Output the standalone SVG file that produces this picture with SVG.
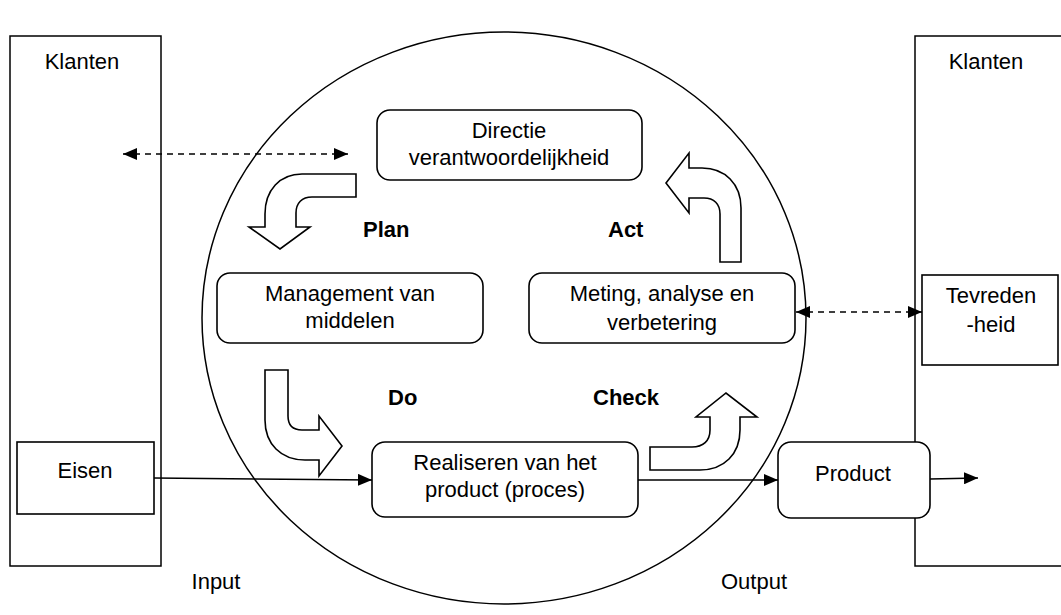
<svg xmlns="http://www.w3.org/2000/svg" width="1061" height="615" viewBox="0 0 1061 615">
  <style>
    .line { fill: none; stroke: #000; stroke-width: 1.5; }
    .box { fill: #fff; stroke: #000; stroke-width: 1.6; }
    .blk { fill: #fff; stroke: #000; stroke-width: 1.6; stroke-linejoin: miter; }
    .txt { font-family: "Liberation Sans", Arial, sans-serif; font-size: 22px; fill: #000; text-anchor: middle; }
    .lbl { font-family: "Liberation Sans", Arial, sans-serif; font-size: 22px; font-weight: bold; fill: #000; }
    .dash { fill: none; stroke: #000; stroke-width: 1.6; stroke-dasharray: 6 5; }
  </style>
  <defs>
    <marker id="head" viewBox="0 0 14 12" refX="14" refY="6" markerWidth="14" markerHeight="12" markerUnits="userSpaceOnUse" orient="auto-start-reverse">
      <path d="M0,0 L14,6 L0,12 Z" fill="#000"/>
    </marker>
    <clipPath id="clipMeting">
      <rect x="529" y="273" width="266" height="63"/>
    </clipPath>
  </defs>

  <rect width="1061" height="615" fill="#fff"/>

  <!-- customer columns -->
  <g id="klanten-links">
    <rect class="line" x="10" y="36" width="151" height="530"/>
    <text class="txt" x="82" y="69">Klanten</text>
  </g>
  <g id="klanten-rechts">
    <rect class="line" x="915" y="36" width="150" height="530"/>
    <text class="txt" x="986" y="69">Klanten</text>
  </g>

  <!-- process circle -->
  <ellipse id="kringloop" class="line" cx="504" cy="318" rx="302" ry="286"/>

  <g id="eisen">
    <rect class="box" x="17" y="442" width="137" height="72"/>
    <text class="txt" x="85" y="478">Eisen</text>
  </g>

  <g id="directie">
    <rect class="box" x="377" y="110" width="265" height="70" rx="13"/>
    <text class="txt" x="509" y="138">Directie</text>
    <text class="txt" x="509" y="165">verantwoordelijkheid</text>
  </g>

  <g id="management">
    <rect class="box" x="217" y="273" width="266" height="70" rx="13"/>
    <text class="txt" x="350" y="301">Management van</text>
    <text class="txt" x="350" y="328">middelen</text>
  </g>

  <g id="meting">
    <rect class="box" x="529" y="273" width="266" height="70" rx="13"/>
    <text class="txt" x="662" y="301">Meting, analyse en</text>
    <text class="txt" x="662" y="330" clip-path="url(#clipMeting)">verbetering</text>
  </g>

  <g id="realiseren">
    <rect class="box" x="372" y="442" width="266" height="75" rx="13"/>
    <text class="txt" x="505" y="470">Realiseren van het</text>
    <text class="txt" x="505" y="497">product (proces)</text>
  </g>

  <g id="product">
    <rect class="box" x="778" y="442" width="152" height="76" rx="13"/>
    <text class="txt" x="853" y="481">Product</text>
  </g>

  <g id="tevredenheid">
    <rect class="box" x="922" y="275" width="136" height="90"/>
    <text class="txt" x="991" y="303">Tevreden</text>
    <text class="txt" x="991" y="332">-heid</text>
  </g>

  <!-- PDCA block arrows -->
  <g id="pijl-plan">
    <path class="blk" d="M356,174 L302,174 C280,174 265,190 265,214 L265,227 L249,227 L280,249 L310,227 L296,227 L296,213 C296,203 302,197 312,197 L356,197 Z"/>
    <text class="lbl" x="363" y="237">Plan</text>
  </g>
  <g id="pijl-act">
    <path class="blk" d="M720,262 L720,214 C720,204 714,198 704,198 L689,198 L689,213 L666,183 L689,153 L689,168 L702,168 C725,168 741,184 741,208 L741,262 Z"/>
    <text class="lbl" x="608" y="237">Act</text>
  </g>
  <g id="pijl-do">
    <path class="blk" d="M265,370 L288,370 L288,416 C288,425 293,430 302,430 L319,430 L319,416 L342,446 L319,476 L319,460 L305,460 C281,460 265,444 265,420 Z"/>
    <text class="lbl" x="388" y="405">Do</text>
  </g>
  <g id="pijl-check">
    <path class="blk" d="M650,447 L692,447 C703,447 710,441 710,430 L710,417 L696,417 L726,393 L757,417 L740,417 L740,430 C740,454 724,470 700,470 L650,470 Z"/>
    <text class="lbl" x="593" y="405">Check</text>
  </g>

  <!-- connectors -->
  <g id="verbindingen">
    <line class="dash" x1="123" y1="154" x2="348" y2="154" marker-start="url(#head)" marker-end="url(#head)"/>
    <line class="dash" x1="796" y1="312" x2="922" y2="312" marker-start="url(#head)" marker-end="url(#head)"/>
    <line class="line" x1="154" y1="478" x2="372" y2="480" marker-end="url(#head)"/>
    <line class="line" x1="638" y1="480" x2="778" y2="480" marker-end="url(#head)"/>
    <line class="line" x1="930" y1="479" x2="978" y2="478" marker-end="url(#head)"/>
  </g>

  <text class="txt" x="216" y="589">Input</text>
  <text class="txt" x="754" y="589">Output</text>
</svg>
